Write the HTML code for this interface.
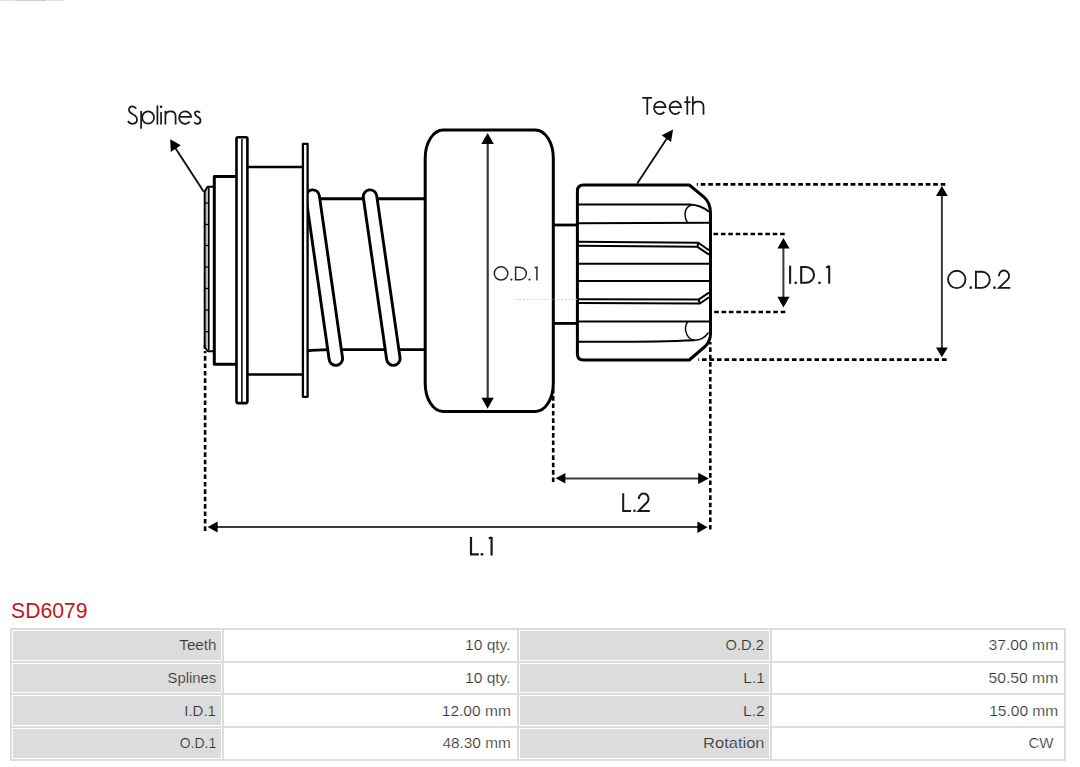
<!DOCTYPE html>
<html><head><meta charset="utf-8">
<style>
html,body{margin:0;padding:0;background:#fff;width:1080px;height:767px;overflow:hidden;position:relative;font-family:"Liberation Sans",sans-serif;}
#dia{position:absolute;left:0;top:0;}
#title{position:absolute;left:11px;top:598.8px;font-size:21.2px;line-height:24px;color:#c0171e;letter-spacing:0px;white-space:nowrap;}
#tbl{position:absolute;left:10px;top:628px;width:1056px;border-collapse:separate;border-spacing:2px;background:#dddddd;table-layout:fixed;}
#tbl td{border:1px solid #fff;padding:0 6px 0 0;text-align:right;font-size:14px;color:#333;height:28.67px;white-space:nowrap;letter-spacing:0px;}
#tbl td.l{background:#dcdcdc;-webkit-text-stroke:0.2px #dcdcdc;}
#tbl td span{display:inline-block;transform-origin:100% 50%;}
#tbl td.v{background:#fff;-webkit-text-stroke:0.2px #fff;}
</style></head><body>
<svg id="dia" width="1080" height="600" viewBox="0 0 1080 600">
<!-- faint top artifact -->
<line x1="0" y1="0.5" x2="64" y2="0.5" stroke="#c8c8c8" stroke-width="1" stroke-dasharray="1.5 1.5"/>
<line x1="16" y1="0.5" x2="47" y2="0.5" stroke="#d6cdc2" stroke-width="1"/>
<g fill="none" stroke="#000" stroke-linejoin="round">
  <!-- spline strip -->
  <rect x="205.5" y="189" width="2.6" height="159" fill="#bdbdbd" stroke="none"/>
  <path d="M204.7 349 V191.5 L207.6 186.8 H214" stroke-width="2"/>
  <path d="M204.7 345 V347.3 L208 351.2 H214" stroke-width="2"/>
  <line x1="208.8" y1="187.5" x2="208.8" y2="350" stroke-width="1.6"/>
  <g stroke-width="1.3">
    <line x1="205" y1="203" x2="208.5" y2="203"/>
    <line x1="205" y1="224.5" x2="208.5" y2="224.5"/>
    <line x1="205" y1="245.5" x2="208.5" y2="245.5"/>
    <line x1="205" y1="267" x2="208.5" y2="267"/>
    <line x1="205" y1="288.5" x2="208.5" y2="288.5"/>
    <line x1="205" y1="310" x2="208.5" y2="310"/>
    <line x1="205" y1="331.7" x2="208.5" y2="331.7"/>
  </g>
  <!-- hub -->
  <path d="M237 176.4 H214.3 V364.2 H237" stroke-width="3"/>
  <!-- body between flange and plate -->
  <line x1="248" y1="167" x2="304" y2="167" stroke-width="2.6"/>
  <line x1="248" y1="374.5" x2="304" y2="374.5" stroke-width="2.6"/>
  <!-- flange -->
  <rect x="236.5" y="137.3" width="10.9" height="265.8" rx="1.5" fill="#fff" stroke-width="2.6"/>
  <line x1="241.9" y1="139" x2="241.9" y2="402" stroke-width="1.5"/>
  <!-- shaft -->
  <line x1="308" y1="198.8" x2="426" y2="198.8" stroke-width="2.9"/>
  <path d="M307 351 Q315 349.8 330 349.6 H426" stroke-width="2.9"/>
  <!-- coils -->
  <line x1="312.66" y1="196.6" x2="335.83" y2="358.6" stroke-width="16.4" stroke-linecap="round"/>
  <line x1="312.66" y1="196.6" x2="335.83" y2="358.6" stroke="#fff" stroke-width="10.6" stroke-linecap="round"/>
  <line x1="370.01" y1="196.6" x2="393.34" y2="358.6" stroke-width="16.4" stroke-linecap="round"/>
  <line x1="370.01" y1="196.6" x2="393.34" y2="358.6" stroke="#fff" stroke-width="10.6" stroke-linecap="round"/>
  <!-- plate -->
  <rect x="302.9" y="143.95" width="4.7" height="252.9" fill="#fff" stroke-width="2.3"/>
  <!-- OD1 body -->
  <rect x="425.2" y="130" width="128.1" height="281.4" rx="18" ry="28" fill="#fff" stroke-width="3"/>
  <!-- stub -->
  <line x1="553" y1="225" x2="578" y2="225" stroke-width="2.8"/>
  <line x1="553" y1="323.4" x2="578" y2="323.4" stroke-width="2.8"/>
  <!-- gear outline -->
  <path d="M583.5 185 H689.3 L704 197.2 Q710.3 202.5 710.5 213 V334 Q710.3 341.5 705 346.5 L689.3 360 H583.5 Q577.4 360 577.4 354 V191 Q577.4 185 583.5 185 Z" fill="#fff" stroke-width="3"/>
  <!-- gear tooth lines -->
  <g stroke-width="2">
    <path d="M578 204.5 L690 204.6 C697 204.9 703 207 708.8 211.7"/>
    <line x1="578" y1="223.3" x2="710" y2="222.8"/>
    <path d="M578 241.8 L698.3 242.8 L709 250.3"/>
    <path d="M578 245.8 L697.5 246.8 L709 254.6 M698.3 242.8 L697.5 246.8"/>
    <line x1="578" y1="263.7" x2="710" y2="263.7"/>
    <line x1="578" y1="281.1" x2="710" y2="281.1"/>
    <path d="M578 299.2 L698.5 299.6 L709 292.6"/>
    <path d="M578 303 L700 303.5 L709 297.3 M698.5 299.6 L700 303.5"/>
    <line x1="578" y1="321.4" x2="710" y2="321.4"/>
    <path d="M578 341.7 Q650 342.3 694.5 340.3"/>
  </g>
  <g stroke-width="1.4">
    <path d="M691.4 205 C687 206.5 685 210 685 214.4 C685 218 686.2 220.5 687.5 222.8"/>
    <path d="M687.9 321.5 C686 324 685.2 327.5 685.6 330.2 C686.5 336.5 690.5 340.3 694.5 340.3 C700 340.3 705 337.5 708.5 332.5"/>
  </g>
</g>
<!-- faint dotted centre line -->
<line x1="516" y1="299.4" x2="577" y2="299.4" stroke="#c8c8c8" stroke-width="1" stroke-dasharray="1.5 2"/>
<!-- dotted extension lines -->
<g stroke="#000" stroke-width="2.6" stroke-dasharray="4.6 2.8" fill="none">
  <line x1="696.8" y1="184.4" x2="945.4" y2="184.4" stroke-dasharray="4.7 2.8" stroke-dashoffset="3.6"/>
  <line x1="698.3" y1="359.6" x2="946.6" y2="359.6" stroke-dasharray="4.7 2.8" stroke-dashoffset="3.9"/>
  <line x1="784.7" y1="234" x2="713.5" y2="234"/>
  <line x1="785.3" y1="312" x2="713.5" y2="312"/>
  <line x1="205.1" y1="530.9" x2="205.1" y2="351"/>
  <line x1="710.3" y1="529.5" x2="710.3" y2="342"/>
  <line x1="553.2" y1="482.1" x2="553.2" y2="389"/>
</g>
<!-- dimension lines -->
<g stroke="#3a3a3a" stroke-width="2" fill="none">
  <line x1="487.7" y1="140" x2="487.7" y2="402" stroke-width="2.2"/>
  <line x1="941.9" y1="192" x2="941.9" y2="351"/>
  <line x1="783.4" y1="244" x2="783.4" y2="301"/>
  <line x1="213" y1="527" x2="702" y2="527"/>
  <line x1="561" y1="478.4" x2="703" y2="478.4"/>
  <line x1="175" y1="147.5" x2="203.6" y2="191.6" stroke="#111" stroke-width="1.9"/>
  <line x1="668.5" y1="136" x2="637.2" y2="183.5" stroke="#111" stroke-width="1.9"/>
</g>
<g fill="#000">
  <polygon points="487.6,133 481.4,144 493.8,144"/>
  <polygon points="487.6,408.8 481.4,397.8 493.8,397.8"/>
  <polygon points="941.9,186 936,196 947.8,196"/>
  <polygon points="941.9,357.3 936,347.5 947.8,347.5"/>
  <polygon points="783.4,238 777.4,248.4 789.6,248.4"/>
  <polygon points="783.4,307.4 777.4,296.8 789.6,296.8"/>
  <polygon points="207.6,527 217.6,521.5 217.6,532.6"/>
  <polygon points="707.6,527.2 697.4,521.4 697.4,533"/>
  <polygon points="555.6,478.3 565.4,473 565.4,483.6"/>
  <polygon points="708.8,478.5 698.2,472.8 698.2,484"/>
  <polygon points="170.2,139.3 170.8,151.9 180.8,145.2"/>
  <polygon points="673.1,129.5 661.6,135.2 671,141.9"/>
</g>
<!-- labels (geometric glyphs) -->
<g fill="none" stroke="#1a1a1a" stroke-linecap="butt" stroke-linejoin="miter">
  <!-- Splines -->
  <g stroke-width="1.75">
    <path d="M136.2 108.6 C135.2 107 134 106.25 132.4 106.25 C130.4 106.25 129 107.8 129 109.9 C129 112.2 131 113.3 132.9 114.3 C135.2 115.5 137 116.8 137 119.6 C137 122 135.2 123.75 132.6 123.75 C130.6 123.75 128.9 122.6 128 121"/>
    <path d="M141.1 111 V128.8"/>
    <ellipse cx="148.1" cy="117.5" rx="5.9" ry="6.2"/>
    <path d="M157.4 105.4 V124.6"/>
    <path d="M161.1 112 V124.6"/>
    <path d="M165.4 110.8 V124.6 M165.4 116 C165.4 112.8 167.5 111.25 170.5 111.25 C173.5 111.25 175.6 113 175.6 116 V124.6"/>
    <path d="M179 116.9 H191.1 A6 6.2 0 1 0 189.7 121.6"/>
    <path d="M200 112.6 C199.3 111.7 198.5 111.25 197.4 111.25 C196 111.25 194.9 112.2 194.9 113.6 C194.9 115.3 196.5 116.2 197.8 116.9 C199.4 117.7 200.5 118.7 200.5 120.6 C200.5 122.6 199.1 123.95 197.2 123.95 C195.9 123.95 194.9 123.3 194.3 122.3"/>
  </g>
  <circle cx="161.1" cy="106.7" r="1.3" fill="#1a1a1a" stroke="none"/>
  <!-- Teeth -->
  <g stroke-width="1.75">
    <path d="M642.3 97.8 H651.9 M647.3 97.8 V114.8"/>
    <path d="M654 107.2 H665.6 A5.8 6.3 0 1 0 664.3 111.9"/>
    <path d="M669.4 107.2 H681.1 A5.8 6.3 0 1 0 679.7 111.9"/>
    <path d="M687.3 96.2 V114.8 M684.3 102 H690.5"/>
    <path d="M692.8 96.2 V114.8 M692.8 106 C692.8 102.8 694.9 101.55 698 101.55 C701.2 101.55 703.5 103.2 703.5 106.5 V114.8"/>
  </g>
  <!-- O.D.1 -->
  <g stroke="#2a2a2a" stroke-width="1.5">
    <ellipse cx="501.05" cy="273.45" rx="6.75" ry="6.6"/>
    <path d="M515.6 267.35 H519.5 A6.85 6.2 0 0 1 519.5 279.75 H515.6 Z"/>
    <path d="M536.9 266.6 V280.5 M534.6 268.2 L536.9 266.8"/>
  </g>
  <g fill="#2a2a2a" stroke="none">
    <circle cx="511.4" cy="279.6" r="1.1"/>
    <circle cx="529.5" cy="279.6" r="1.1"/>
  </g>
  <!-- I.D.1 -->
  <g stroke-width="2.1">
    <path d="M790.1 265.7 V283.8"/>
    <path d="M801.2 267.05 H805.8 A8.25 7.85 0 0 1 805.8 282.75 H801.2 Z"/>
    <path d="M829.2 265.7 V283.8 M826.2 267.6 L829.2 266"/>
  </g>
  <g fill="#1a1a1a" stroke="none">
    <circle cx="795.7" cy="282.8" r="1.35"/>
    <circle cx="819.5" cy="282.8" r="1.35"/>
  </g>
  <!-- O.D.2 -->
  <g stroke-width="1.85">
    <circle cx="956.75" cy="279.45" r="8.7"/>
    <path d="M975.9 271.7 H982 A7.8 8.05 0 0 1 982 287.8 H975.9 Z"/>
    <path d="M998.9 276.2 A5.1 5.4 0 1 1 1007.6 279.7 L999 287.8 H1010.3"/>
  </g>
  <g fill="#1a1a1a" stroke="none">
    <circle cx="970.75" cy="287.7" r="1.35"/>
    <circle cx="994.5" cy="287.7" r="1.35"/>
  </g>
  <!-- L.2 -->
  <g stroke-width="2">
    <path d="M623.2 493.2 V510.9 H631"/>
    <path d="M638.9 499 A4.8 5.2 0 1 1 647.4 502 L638.6 510.9 H649.8"/>
  </g>
  <circle cx="634.5" cy="510.7" r="1.3" fill="#1a1a1a" stroke="none"/>
  <!-- L.1 -->
  <g stroke-width="2.2">
    <path d="M471 537 V554.4 H478.8"/>
    <path d="M491.6 537 V555.5 M488.8 538.6 L491.6 537.3"/>
  </g>
  <circle cx="482" cy="554.3" r="1.4" fill="#1a1a1a" stroke="none"/>
</g>
</svg>
<div id="title">SD6079</div>
<table id="tbl">
<colgroup><col style="width:210px"><col style="width:293px"><col style="width:251px"><col style="width:292px"></colgroup>
<tr><td class="l"><span style="transform:translateX(1.3px) scaleX(1.088)">Teeth</span></td><td class="v"><span style="transform:translateX(0.6px) scaleX(1.113)">10 qty.</span></td><td class="l"><span style="transform:translateX(1.3px) scaleX(1.047)">O.D.2</span></td><td class="v"><span style="transform:translateX(1.0px) scaleX(1.12)">37.00 mm</span></td></tr>
<tr><td class="l"><span style="transform:translateX(1.3px) scaleX(1.059)">Splines</span></td><td class="v"><span style="transform:translateX(0.6px) scaleX(1.113)">10 qty.</span></td><td class="l"><span style="transform:translateX(1.3px) scaleX(1.1)">L.1</span></td><td class="v"><span style="transform:translateX(1.0px) scaleX(1.12)">50.50 mm</span></td></tr>
<tr><td class="l"><span style="transform:translateX(1.3px) scaleX(1.067)">I.D.1</span></td><td class="v"><span style="transform:translateX(0.6px) scaleX(1.11)">12.00 mm</span></td><td class="l"><span style="transform:translateX(1.3px) scaleX(1.12)">L.2</span></td><td class="v"><span style="transform:translateX(1.0px) scaleX(1.11)">15.00 mm</span></td></tr>
<tr><td class="l"><span style="transform:translateX(1.3px) scaleX(1.0)">O.D.1</span></td><td class="v"><span style="transform:translateX(0.6px) scaleX(1.1)">48.30 mm</span></td><td class="l"><span style="transform:translateX(1.3px) scaleX(1.176)">Rotation</span></td><td class="v"><span style="transform:translateX(-3.8px) scaleX(1.076)">CW</span></td></tr>
</table>
</body></html>
